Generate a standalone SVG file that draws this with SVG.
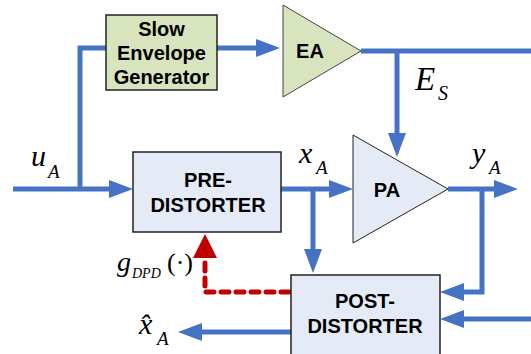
<svg xmlns="http://www.w3.org/2000/svg" width="531" height="354" viewBox="0 0 531 354">
<style>
.w{stroke:#4472c4;stroke-width:5;fill:none}
.r{stroke:#c00000;stroke-width:5;fill:none;stroke-dasharray:8 7;stroke-linecap:round}
.lb{font-family:"Liberation Sans",Arial,sans-serif;font-weight:bold;font-size:20px;text-anchor:middle;fill:#000}
.m{font-family:"Liberation Serif","Times New Roman",serif;font-style:italic;fill:#000}
</style>
<defs>
<marker id="ab" viewBox="0 0 24 18" refX="14" refY="9" markerWidth="24" markerHeight="18" markerUnits="userSpaceOnUse" orient="auto"><path d="M0,0 L24,9 L0,18 z" fill="#4472c4"/></marker>
</defs>
<g id="connectors">
<path class="w" d="M13,189 H123" marker-end="url(#ab)"/>
<path class="w" d="M80,189 V48 H106"/>
<path class="w" d="M217,48 H270" marker-end="url(#ab)"/>
<path class="w" d="M361,51 H531"/>
<path class="w" d="M397,51 V147" marker-end="url(#ab)"/>
<path class="w" d="M281,189 H343" marker-end="url(#ab)"/>
<path class="w" d="M313,189 V263" marker-end="url(#ab)"/>
<path class="w" d="M448,189 H508" marker-end="url(#ab)"/>
<path class="w" d="M482,189 V292 H450" marker-end="url(#ab)"/>
<path class="w" d="M531,319 H450" marker-end="url(#ab)"/>
<path class="w" d="M291,332 H188" marker-end="url(#ab)"/>
<path class="r" d="M289,292 H205 V256"/>
<path d="M193,258 L205,234 L217,258 z" fill="#c00000"/>
</g>
<g id="seg">
<rect x="106" y="15" width="111" height="75" fill="#d7e4bd" stroke="#222" stroke-width="1.5"/>
<text class="lb" x="161.5" y="36">Slow</text>
<text class="lb" x="161.5" y="60">Envelope</text>
<text class="lb" x="161.5" y="84">Generator</text>
</g>
<g id="ea">
<polygon points="283,5 361,51 283,97" fill="#d7e4bd" stroke="#444" stroke-width="1"/>
<text class="lb" x="310" y="58">EA</text>
</g>
<g id="pre">
<rect x="133" y="152" width="148" height="80" fill="#e4ebf6" stroke="#222" stroke-width="1.5"/>
<text class="lb" x="208" y="187">PRE-</text>
<text class="lb" x="208" y="212">DISTORTER</text>
</g>
<g id="pa">
<polygon points="353,135 448,189 353,243" fill="#e4ebf6" stroke="#222" stroke-width="1"/>
<text class="lb" x="387" y="197">PA</text>
</g>
<g id="post">
<rect x="291" y="275" width="149" height="90" fill="#e4ebf6" stroke="#222" stroke-width="1.5"/>
<text class="lb" x="365" y="308">POST-</text>
<text class="lb" x="365" y="333">DISTORTER</text>
</g>
<g id="labels">
<text class="m" x="31" y="166" font-size="30">u</text><text class="m" x="48" y="178" font-size="19">A</text>
<text class="m" x="415" y="90" font-size="33">E</text><text class="m" x="438" y="100" font-size="20">S</text>
<text class="m" x="299" y="163" font-size="30">x</text><text class="m" x="316" y="174" font-size="19">A</text>
<text class="m" x="472" y="163" font-size="30">y</text><text class="m" x="489" y="174" font-size="19">A</text>
<text class="m" x="117" y="271" font-size="28">g</text><text class="m" x="132" y="278" font-size="14">DPD</text><text x="167" y="271" font-size="26" font-family="Liberation Serif,serif">(·)</text>
<text class="m" x="139" y="334" font-size="30">x̂</text><text class="m" x="157" y="345" font-size="19">A</text>
</g>
</svg>
